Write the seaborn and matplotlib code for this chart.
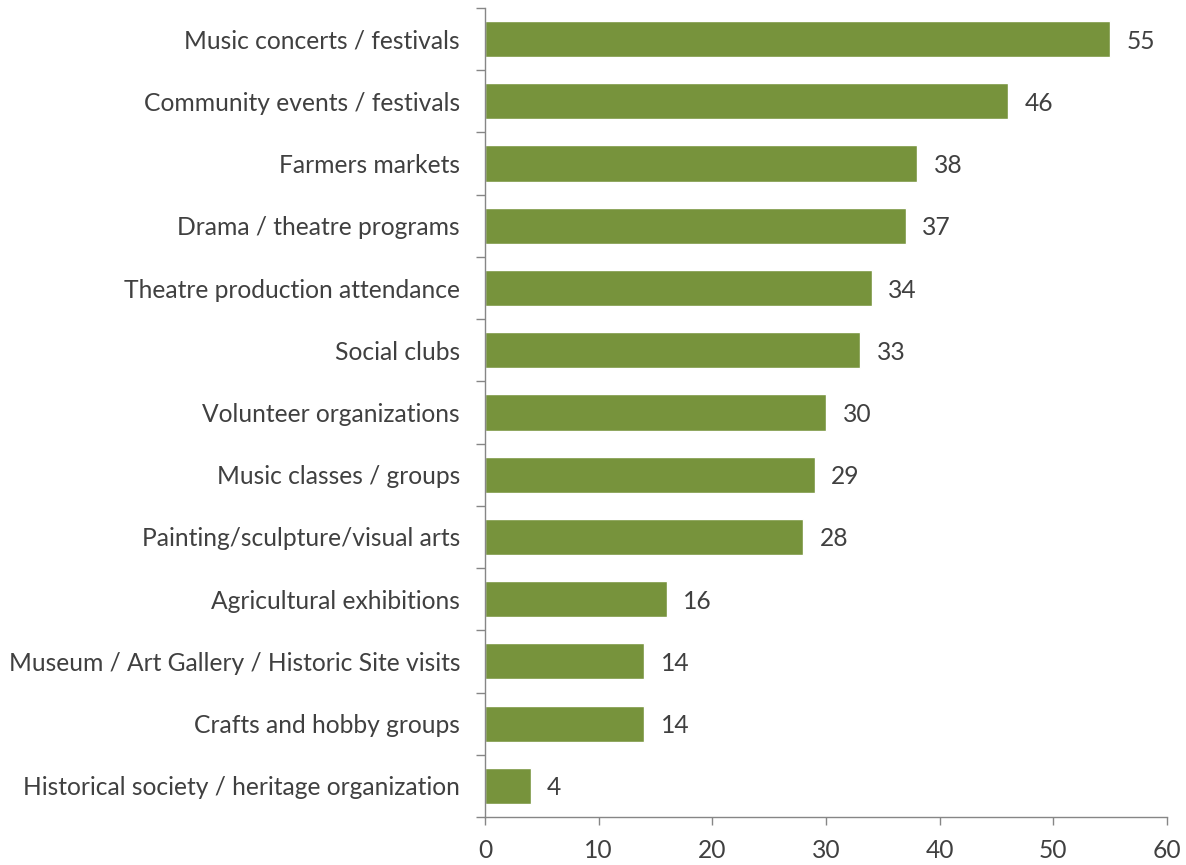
import matplotlib
matplotlib.use("Agg")
import matplotlib.pyplot as plt
import seaborn as sns
import pandas as pd
import numpy as np

categories = [
    "Music concerts / festivals",
    "Community events / festivals",
    "Farmers markets",
    "Drama / theatre programs",
    "Theatre production attendance",
    "Social clubs",
    "Volunteer organizations",
    "Music classes / groups",
    "Painting/sculpture/visual arts",
    "Agricultural exhibitions",
    "Museum / Art Gallery / Historic Site visits",
    "Crafts and hobby groups",
    "Historical society / heritage organization",
]
values = [55, 46, 38, 37, 34, 33, 30, 29, 28, 16, 14, 14, 4]
x_ticks = [0, 10, 20, 30, 40, 50, 60]

sns.set_style("white")
plt.rcParams["font.family"] = ["Lato", "DejaVu Sans"]

text_color = "#404040"
axis_color = "#868686"
bar_color = "#77933C"
fsize = 17.7

df = pd.DataFrame({"category": categories, "value": values})

fig = plt.figure(figsize=(11.86, 8.65), dpi=100)
ax = fig.add_axes([0.409, 0.0555, 0.575, 0.9353])

sns.barplot(data=df, x="value", y="category", orient="h", color=bar_color,
            width=0.58, saturation=1, ax=ax)

for i, v in enumerate(values):
    ax.text(v + 1.45, i, f"{v}", va="center_baseline", ha="left",
            fontsize=fsize, color=text_color)

ax.set_xlim(0, 60)
ax.set_ylim(len(categories) - 0.5, -0.5)
ax.set_xticks(x_ticks)
ax.set_xlabel("")
ax.set_ylabel("")

# category boundaries carry the y tick marks
ax.set_yticks(np.arange(-0.5, len(categories), 1.0), minor=True)
ax.tick_params(axis="y", which="major", left=True, length=0, pad=18,
               labelsize=fsize, labelcolor=text_color)
ax.tick_params(axis="y", which="minor", left=True, length=6.5, width=1,
               color=axis_color, direction="out")
ax.tick_params(axis="x", which="major", bottom=True, length=6, width=1,
               color=axis_color, direction="out", pad=10,
               labelsize=fsize, labelcolor=text_color)

for side in ["top", "right"]:
    ax.spines[side].set_visible(False)
for side in ["left", "bottom"]:
    ax.spines[side].set_color(axis_color)
    ax.spines[side].set_linewidth(1)

fig.savefig("out.png", dpi=100)
